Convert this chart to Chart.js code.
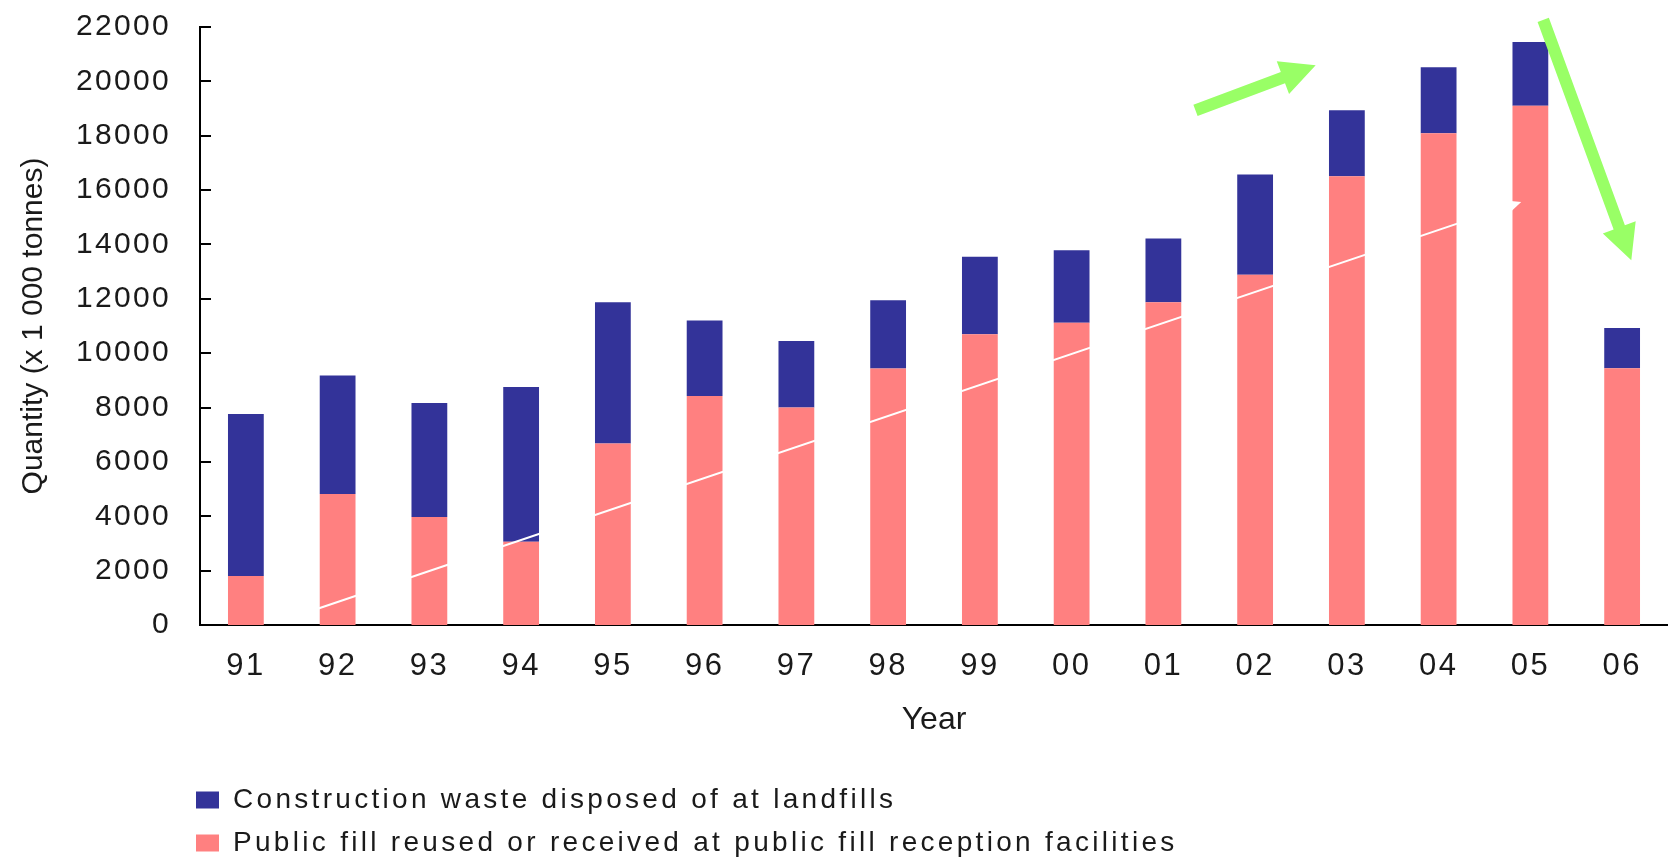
<!DOCTYPE html>
<html>
<head>
<meta charset="utf-8">
<title>Construction waste and public fill, 1991-2006</title>
<script src="https://cdn.jsdelivr.net/npm/chart.js@4.4.1/dist/chart.umd.min.js"></script>
<style>
  html, body { margin: 0; padding: 0; background: #ffffff; }
  #wrap { width: 1668px; height: 859px; position: relative; }
  canvas { display: block; }
</style>
</head>
<body>
<div id="wrap"><canvas id="chart" width="1668" height="859"></canvas></div>
<script>
// Year labels (two-digit)
const years = ['91', '92', '93', '94', '95', '96', '97', '98', '99', '00', '01', '02', '03', '04', '05', '06'];

// Quantities in thousand tonnes
const publicFill = [1800, 4820, 3970, 3060, 6680, 8425, 8000, 9435, 10695, 11120, 11875, 12885, 16505, 18090, 19100, 9445];
const landfillWaste = [5960, 4360, 4200, 5700, 5190, 2775, 2450, 2515, 2855, 2670, 2345, 3685, 2435, 2430, 2345, 1485];

// Value axis
const yMin = 0;
const yMax = 22000;
const yStep = 2000;

// Series names
const seriesNames = {
  landfill: 'Construction waste disposed of at landfills',
  publicFill: 'Public fill reused or received at public fill reception facilities'
};

// Annotation arrows, in data space: [category index, value]
const trendArrow = { from: [0.79, 607], to: [13.9, 15560] };
const riseArrow = { from: [10.35, 18930], to: [11.66, 20590] };
const fallArrow = { from: [14.14, 22260], to: [15.1, 13420] };

const BLUE = '#333399';
const PINK = '#ff8080';
const GREEN = '#99ff66';
const TEXT = '#1a1a1a';
const FONT = "'Liberation Sans', Arial, Helvetica, sans-serif";

Chart.defaults.font.family = FONT;
Chart.defaults.color = TEXT;

// Runs an element method with extra letter tracking on the canvas
function withTracking(obj, method, spacing) {
  const key = '__tracked_' + method;
  if (!obj || obj[key]) return;
  const orig = obj[method];
  obj[method] = function (...args) {
    const ctx = this.ctx;
    const prev = ctx.letterSpacing;
    ctx.letterSpacing = spacing;
    try { return orig.apply(this, args); }
    finally { ctx.letterSpacing = prev === undefined ? '0px' : prev; }
  };
  obj[key] = true;
}

function drawArrow(ctx, x1, y1, x2, y2, shaft, headLen, headWidth, color) {
  const dx = x2 - x1, dy = y2 - y1;
  const len = Math.hypot(dx, dy);
  const ux = dx / len, uy = dy / len;
  const nx = -uy, ny = ux;
  const bx = x2 - ux * headLen, by = y2 - uy * headLen;
  const hs = shaft / 2, hw = headWidth / 2;
  ctx.save();
  ctx.fillStyle = color;
  ctx.beginPath();
  ctx.moveTo(x1 + nx * hs, y1 + ny * hs);
  ctx.lineTo(bx + nx * hs, by + ny * hs);
  ctx.lineTo(bx + nx * hw, by + ny * hw);
  ctx.lineTo(x2, y2);
  ctx.lineTo(bx - nx * hw, by - ny * hw);
  ctx.lineTo(bx - nx * hs, by - ny * hs);
  ctx.lineTo(x1 - nx * hs, y1 - ny * hs);
  ctx.closePath();
  ctx.fill();
  ctx.restore();
}

const LEGEND_TRACKING = '3.3px';

const decorations = {
  id: 'decorations',
  beforeLayout(chart) {
    // legend is measured and drawn with the same tracking
    withTracking(chart.legend, 'fit', LEGEND_TRACKING);
    withTracking(chart.legend, 'draw', LEGEND_TRACKING);
  },
  afterLayout(chart) {
    // legend sits at the lower left, stacked in two rows
    const lg = chart.legend;
    if (lg) {
      lg.left = 181;
      lg.top = 771;
    }
    withTracking(chart.scales.x, 'drawLabels', '2.5px');
    withTracking(chart.scales.y, 'drawLabels', '2.3px');
  },
  afterDatasetsDraw(chart) {
    const { ctx, scales: { x, y } } = chart;
    const p1 = [x.getPixelForValue(trendArrow.from[0]), y.getPixelForValue(trendArrow.from[1])];
    const p2 = [x.getPixelForValue(trendArrow.to[0]), y.getPixelForValue(trendArrow.to[1])];
    drawArrow(ctx, p1[0], p1[1], p2[0], p2[1], 2, 12, 11, '#ffffff');
  },
  afterDraw(chart) {
    const { ctx, scales: { x, y } } = chart;
    // inward tick marks on the value axis
    ctx.save();
    ctx.strokeStyle = '#000000';
    ctx.lineWidth = 2;
    ctx.beginPath();
    y.ticks.forEach(t => {
      const py = Math.round(y.getPixelForValue(t.value));
      ctx.moveTo(y.right, py);
      ctx.lineTo(y.right + 11, py);
    });
    ctx.stroke();
    ctx.restore();

    [riseArrow, fallArrow].forEach(a => {
      drawArrow(ctx,
        x.getPixelForValue(a.from[0]), y.getPixelForValue(a.from[1]),
        x.getPixelForValue(a.to[0]), y.getPixelForValue(a.to[1]),
        12, 35, 35, GREEN);
    });
  }
};

new Chart(document.getElementById('chart'), {
  type: 'bar',
  data: {
    labels: years,
    datasets: [
      {
        label: seriesNames.publicFill,
        data: publicFill,
        backgroundColor: PINK,
        borderWidth: 0,
        barPercentage: 0.39,
        categoryPercentage: 1.0
      },
      {
        label: seriesNames.landfill,
        data: landfillWaste,
        backgroundColor: BLUE,
        borderWidth: 0,
        barPercentage: 0.39,
        categoryPercentage: 1.0
      }
    ]
  },
  options: {
    responsive: false,
    animation: false,
    devicePixelRatio: 1,
    layout: { padding: { top: 27, right: -7, bottom: 0, left: 0 } },
    plugins: {
      legend: {
        position: 'bottom',
        align: 'start',
        reverse: true,
        labels: {
          boxWidth: 23,
          boxHeight: 17,
          padding: 15,
          color: TEXT,
          font: { family: FONT, size: 28 }
        }
      },
      tooltip: { enabled: false }
    },
    scales: {
      x: {
        stacked: true,
        grid: { display: false, drawTicks: false },
        border: { display: true, color: '#000000', width: 2 },
        ticks: {
          color: TEXT,
          font: { family: FONT, size: 31 },
          padding: 23,
          maxRotation: 0,
          autoSkip: false
        },
        title: {
          display: true,
          text: 'Year',
          color: TEXT,
          font: { family: FONT, size: 32 },
          padding: { top: 0, bottom: 24 }
        },
        afterFit(scale) { scale.height = 138; }
      },
      y: {
        stacked: true,
        min: yMin,
        max: yMax,
        grid: { display: false, drawTicks: false },
        border: { display: true, color: '#000000', width: 2 },
        ticks: {
          stepSize: yStep,
          color: TEXT,
          font: { family: FONT, size: 30 },
          padding: 29,
          callback: v => String(v)
        },
        title: {
          display: true,
          text: 'Quantity (x 1 000 tonnes)',
          color: TEXT,
          font: { family: FONT, size: 30 },
          padding: { top: 16, bottom: 0 }
        },
        afterFit(scale) {
          scale.width = 200;
          scale.paddingTop = 0;
          scale.paddingBottom = 0;
        }
      }
    }
  },
  plugins: [decorations]
});
</script>
</body>
</html>
